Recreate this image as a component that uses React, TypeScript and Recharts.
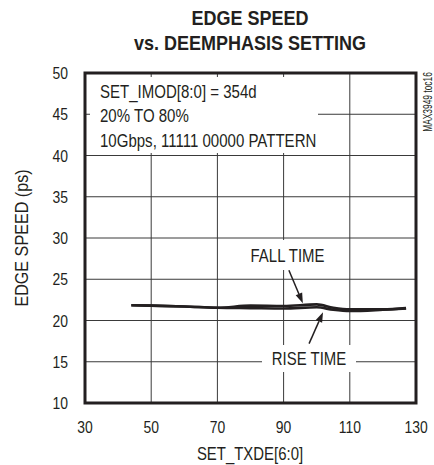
import React from 'react';
import { LineChart, Line, XAxis, YAxis, CartesianGrid, ReferenceArea, ReferenceLine } from 'recharts';

// SET_TXDE[6:0] settings sampled along the curves
const txde = [44, 50, 60, 70, 80, 90, 100, 105, 110, 120, 127];
// edge speed in ps
const fallTime = [21.85, 21.8, 21.7, 21.55, 21.8, 21.75, 21.95, 21.55, 21.35, 21.35, 21.5];
const riseTime = [21.85, 21.8, 21.7, 21.55, 21.5, 21.45, 21.6, 21.3, 21.15, 21.3, 21.45];

const xTicks = [30, 50, 70, 90, 110, 130];
const yTicks = [10, 15, 20, 25, 30, 35, 40, 45, 50];

// annotation arrows, in data units: [from, to]
const fallArrow = [{ x: 91.6, y: 26.1 }, { x: 95.8, y: 22.1 }];
const riseArrow = [{ x: 97.7, y: 17.2 }, { x: 101.9, y: 21.0 }];

const INK = '#231f20';
const FONT = "'Liberation Sans', Arial, sans-serif";

const data = txde.map((x, i) => ({ x, fall: fallTime[i], rise: riseTime[i] }));

// condensed text: no narrow face installed, so squeeze horizontally
function NText({ x, y, size, sx = 0.82, anchor = 'start', bold = false, rotate = 0, dy, children }: any) {
    return (
        <text
            x={0}
            y={0}
            dy={dy}
            fontSize={size}
            fontFamily={FONT}
            fontWeight={bold ? 'bold' : 'normal'}
            textAnchor={anchor}
            fill={INK}
            transform={`translate(${x} ${y}) rotate(${rotate}) scale(${sx} 1)`}
        >
            {children}
        </text>
    );
}

const XTick = (props: any) => (
    <NText x={props.x} y={props.y} size={17} anchor="middle" dy="0.71em">{props.payload.value}</NText>
);
const YTick = (props: any) => (
    <NText x={props.x} y={props.y} size={17} anchor="end" dy="0.355em">{props.payload.value}</NText>
);

const Arrow = (props: any) => {
    const { x1, y1, x2, y2 } = props;
    const dx = x2 - x1;
    const dy = y2 - y1;
    const len = Math.sqrt(dx * dx + dy * dy);
    const ux = dx / len;
    const uy = dy / len;
    const head = 10;
    const half = 3.5;
    const bx = x2 - ux * head;
    const by = y2 - uy * head;
    return (
        <g>
            <line x1={x1} y1={y1} x2={bx} y2={by} stroke={INK} strokeWidth={1.5} />
            <polygon
                points={`${x2},${y2} ${bx - uy * half},${by + ux * half} ${bx + uy * half},${by - ux * half}`}
                fill={INK}
            />
        </g>
    );
};

export default function App() {
    return (
        <div style={{ position: 'absolute', left: 0, top: 0, width: 434, height: 465, background: '#fff' }}>
            <LineChart width={434} height={465} data={data} margin={{ top: 73, right: 18, bottom: 0, left: 0 }}>
                <CartesianGrid stroke="#3a3a3a" strokeWidth={1} />
                <XAxis
                    dataKey="x"
                    type="number"
                    domain={[30, 130]}
                    ticks={xTicks}
                    height={62}
                    tickLine={false}
                    axisLine={false}
                    tickSize={0}
                    tickMargin={18}
                    tick={<XTick />}
                />
                <YAxis
                    type="number"
                    domain={[10, 50]}
                    ticks={yTicks}
                    width={85}
                    tickLine={false}
                    axisLine={false}
                    tickSize={0}
                    tickMargin={17}
                    tick={<YTick />}
                />
                <Line type="monotone" dataKey="fall" stroke={INK} strokeWidth={2.6} dot={false} isAnimationActive={false} />
                <Line type="monotone" dataKey="rise" stroke={INK} strokeWidth={2.6} dot={false} isAnimationActive={false} />
                <ReferenceLine segment={fallArrow} shape={Arrow} />
                <ReferenceLine segment={riseArrow} shape={Arrow} />
                <ReferenceArea x1={30} x2={130} y1={10} y2={50} fill="none" stroke={INK} strokeWidth={3} />
            </LineChart>

            <svg width={434} height={465} style={{ position: 'absolute', left: 0, top: 0, pointerEvents: 'none' }}>
                <NText x={250} y={25} size={20} sx={0.9} bold anchor="middle">EDGE SPEED</NText>
                <NText x={250} y={50} size={20} sx={0.9} bold anchor="middle">vs. DEEMPHASIS SETTING</NText>

                <rect x={90} y={77} width={228} height={76} fill="#fff" />
                <NText x={100} y={97.5} size={18} sx={0.835}>SET_IMOD[8:0] = 354d</NText>
                <NText x={100} y={122} size={18} sx={0.835}>20% TO 80%</NText>
                <NText x={100} y={146.5} size={18} sx={0.835}>10Gbps, 11111 00000 PATTERN</NText>

                <rect x={245} y={240} width={82} height={30} fill="#fff" />
                <NText x={287.5} y={262} size={18} sx={0.83} anchor="middle">FALL TIME</NText>

                <rect x={262} y={345} width={94} height={27} fill="#fff" />
                <NText x={309} y={365} size={18} sx={0.83} anchor="middle">RISE TIME</NText>

                <NText x={431.5} y={102} size={12} sx={0.7} rotate={-90} anchor="middle">MAX3949 toc16</NText>

                <NText x={28} y={238} size={19} sx={0.85} rotate={-90} anchor="middle">EDGE SPEED (ps)</NText>
                <NText x={250} y={460} size={18} sx={0.83} anchor="middle">SET_TXDE[6:0]</NText>
            </svg>
        </div>
    );
}
